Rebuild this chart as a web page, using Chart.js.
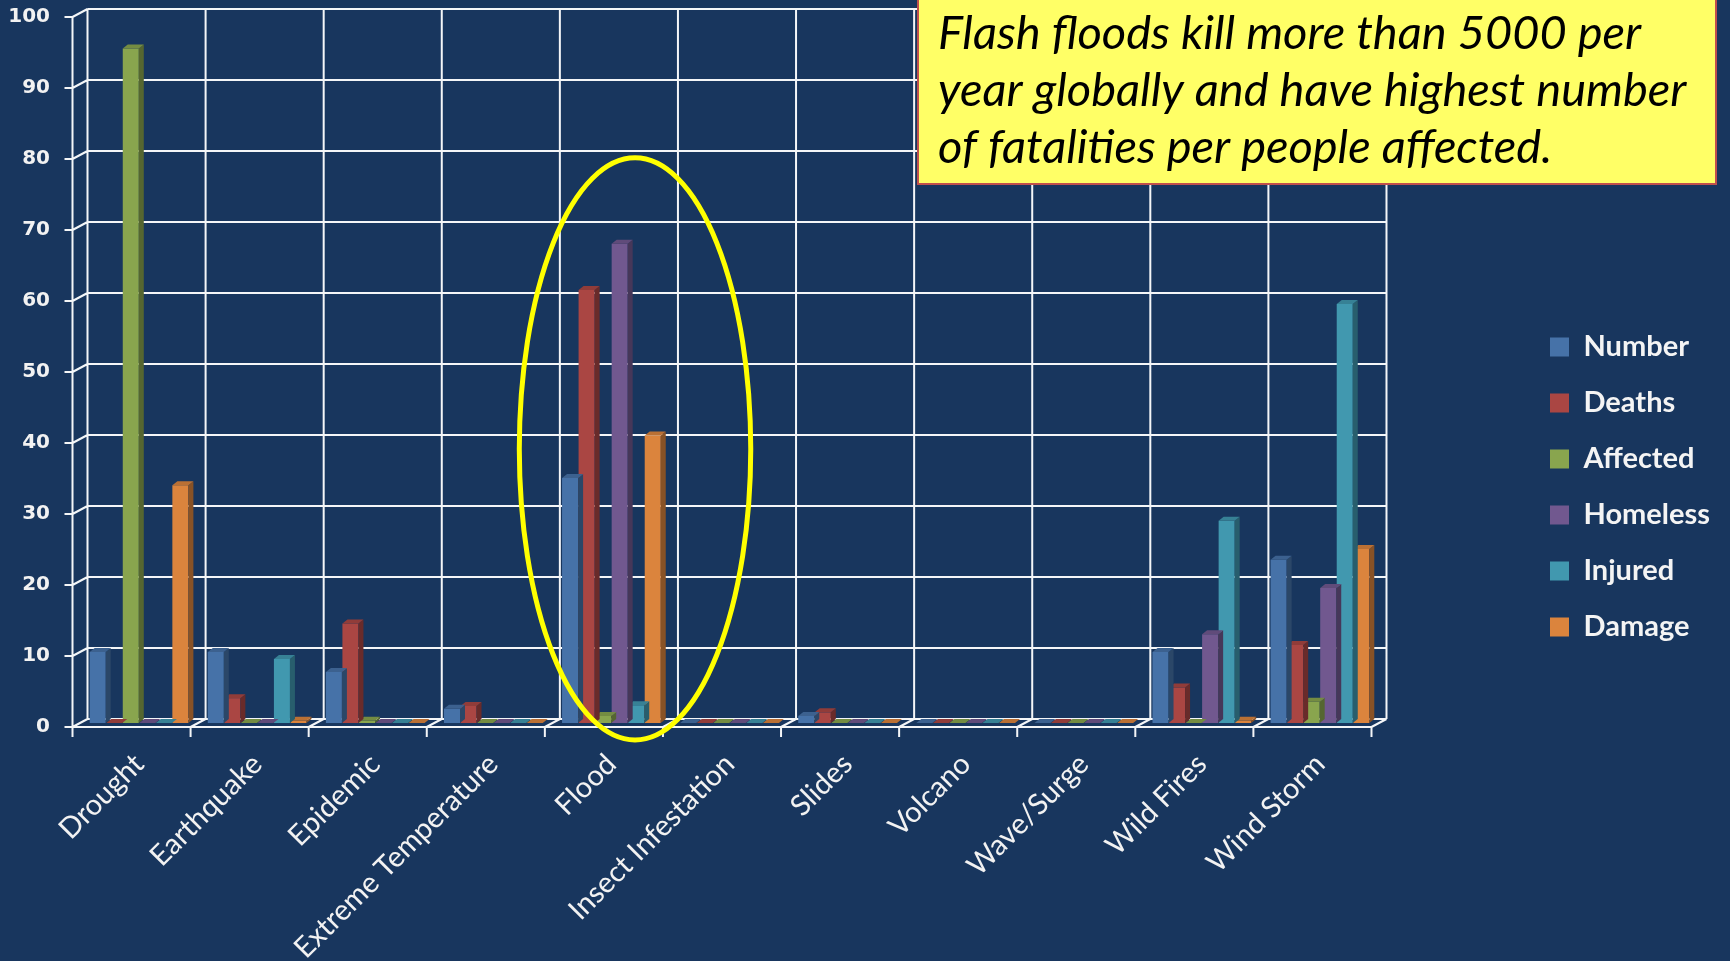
<!DOCTYPE html>
<html>
<head>
<meta charset="utf-8">
<script src="https://cdn.jsdelivr.net/npm/chart.js@4"></script>
<style>
  html, body { margin: 0; padding: 0; background: #18365e; }
  canvas { display: block; }
</style>
</head>
<body>
<canvas id="chart" width="1730" height="961"></canvas>
<script>
const categories = ['Drought', 'Earthquake', 'Epidemic', 'Extreme Temperature', 'Flood', 'Insect Infestation', 'Slides', 'Volcano', 'Wave/Surge', 'Wild Fires', 'Wind Storm'];
const number   = [10, 10, 7.2, 2, 34.5, 0, 1, 0, 0, 10, 23];
const deaths   = [0, 3.5, 14, 2.4, 61, 0, 1.5, 0, 0, 5, 11];
const affected = [95, 0, 0.3, 0, 1, 0, 0, 0, 0, 0, 3];
const homeless = [0, 0, 0, 0, 67.5, 0, 0, 0, 0, 12.5, 19];
const injured  = [0, 9, 0, 0, 2.5, 0, 0, 0, 0, 28.5, 59];
const damage   = [33.5, 0.3, 0, 0, 40.5, 0, 0, 0, 0, 0.3, 24.5];
const yTicks = [0, 10, 20, 30, 40, 50, 60, 70, 80, 90, 100];

const noteLines = ['Flash floods kill more than 5000 per', 'year globally and have highest number', 'of fatalities per people affected.'];

const series = {
  Number: [number, '#4672a8'],
  Deaths: [deaths, '#aa4643'],
  Affected: [affected, '#89a54e'],
  Homeless: [homeless, '#71588f'],
  Injured: [injured, '#4198af'],
  Damage: [damage, '#db843d']
};

// 3d depth of the plot box and of the bars
const D = 7.5, d = 4;
const bdx = 5, bdy = 4;

function shade(hex, f) {
  let n = parseInt(hex.slice(1), 16);
  let r = Math.min(255, Math.round(((n >> 16) & 255) * f));
  let g = Math.min(255, Math.round(((n >> 8) & 255) * f));
  let b = Math.min(255, Math.round((n & 255) * f));
  return `rgb(${r},${g},${b})`;
}

const box3d = {
  id: 'box3d',
  beforeDatasetsDraw(chart) {
    const {ctx, chartArea: a, scales: {x, y}} = chart;
    const catW = (a.right - a.left) / categories.length;
    const y0 = y.getPixelForValue(0), y100 = y.getPixelForValue(100);
    ctx.save();
    ctx.strokeStyle = '#f4f6f8';
    ctx.lineWidth = 2;
    ctx.beginPath();
    yTicks.forEach(v => {
      let py = y.getPixelForValue(v);
      ctx.moveTo(a.left + D, py - d); ctx.lineTo(a.right + D, py - d);
      ctx.moveTo(a.left - D, py + d); ctx.lineTo(a.left + D, py - d);
      ctx.moveTo(a.left - D - 8, py + d); ctx.lineTo(a.left - D, py + d);
    });
    for (let i = 0; i <= categories.length; i++) {
      let bx = a.left + i * catW;
      ctx.moveTo(bx + D, y0 - d); ctx.lineTo(bx + D, y100 - d);
      ctx.moveTo(bx - D, y0 + d); ctx.lineTo(bx + D, y0 - d);
      ctx.moveTo(bx - D, y0 + d); ctx.lineTo(bx - D, y0 + d + 10);
    }
    ctx.moveTo(a.left - D, y0 + d); ctx.lineTo(a.left - D, y100 + d);
    ctx.moveTo(a.left - D, y0 + d); ctx.lineTo(a.right - D, y0 + d);
    ctx.stroke();
    ctx.restore();
  },
  afterDatasetDraw(chart, args) {
    const ctx = chart.ctx;
    const color = chart.data.datasets[args.index].backgroundColor;
    ctx.save();
    args.meta.data.forEach(bar => {
      const {x, y, base, width} = bar.getProps(['x', 'y', 'base', 'width'], true);
      const l = x - width / 2, r = x + width / 2;
      ctx.fillStyle = shade(color, 0.62);
      ctx.beginPath();
      ctx.moveTo(r, y); ctx.lineTo(r + bdx, y - bdy); ctx.lineTo(r + bdx, base - bdy); ctx.lineTo(r, base);
      ctx.closePath(); ctx.fill();
      ctx.fillStyle = shade(color, 0.85);
      ctx.beginPath();
      ctx.moveTo(l, y); ctx.lineTo(l + bdx, y - bdy); ctx.lineTo(r + bdx, y - bdy); ctx.lineTo(r, y);
      ctx.closePath(); ctx.fill();
    });
    ctx.restore();
  },
  afterDatasetsDraw(chart) {
    // yellow ring round the Flood group
    const {ctx, chartArea: a, scales: {x, y}} = chart;
    const catW = (a.right - a.left) / categories.length;
    const i = categories.indexOf('Flood');
    const cx = x.getPixelForValue(i) + 0.2 * catW;
    const cy = y.getPixelForValue(38.6);
    const ry = y.getPixelForValue(0) - y.getPixelForValue(41);
    ctx.save();
    ctx.strokeStyle = '#ffff00';
    ctx.lineWidth = 5;
    ctx.beginPath();
    ctx.ellipse(cx, cy, 0.98 * catW, ry, 0, 0, Math.PI * 2);
    ctx.stroke();
    ctx.restore();
  },
  afterDraw(chart) {
    const ctx = chart.ctx;
    ctx.save();
    ctx.fillStyle = '#ffff66';
    ctx.strokeStyle = '#c0504d';
    ctx.lineWidth = 2;
    ctx.fillRect(918, -4, 798, 188);
    ctx.strokeRect(918, -4, 798, 188);
    ctx.fillStyle = '#000';
    ctx.font = 'italic 47px Lato';
    ctx.textBaseline = 'alphabetic';
    noteLines.forEach((t, k) => ctx.fillText(t, 938, 49 + k * 57));
    ctx.restore();
  }
};

function draw() {
  new Chart(document.getElementById('chart'), {
    type: 'bar',
    data: {
      labels: categories,
      datasets: Object.entries(series).map(([label, [data, color]]) => ({
        label: label,
        data: data,
        backgroundColor: color,
        borderWidth: 0,
        categoryPercentage: 0.84,
        barPercentage: 0.97
      }))
    },
    options: {
      responsive: false,
      animation: false,
      layout: { padding: { top: 13, right: 10, left: 0, bottom: 0 } },
      plugins: {
        tooltip: { enabled: false },
        legend: {
          position: 'right',
          align: 'center',
          labels: {
            boxWidth: 19,
            boxHeight: 19,
            padding: 27,
            color: '#f4f4f4',
            font: { family: 'Lato', weight: 'bold', size: 29 }
          }
        }
      },
      scales: {
        x: {
          grid: { display: false, drawTicks: false },
          border: { display: false },
          ticks: {
            color: '#f2f2f2',
            font: { family: 'Lato', size: 29 },
            maxRotation: 45,
            minRotation: 45,
            padding: 24,
            autoSkip: false
          },
          afterFit(s) { s.height = 238; }
        },
        y: {
          min: 0,
          max: 100,
          grid: { display: false, drawTicks: false },
          border: { display: false },
          ticks: {
            stepSize: 10,
            color: '#f2f2f2',
            font: { family: 'DejaVu Sans', weight: 'bold', size: 20 },
            padding: 30,
            labelOffset: 4
          },
          afterFit(s) { s.width = 80; s.paddingTop = 0; s.paddingBottom = 0; }
        },
        gap: {
          type: 'linear',
          axis: 'y',
          position: 'right',
          display: true,
          grid: { display: false, drawTicks: false },
          border: { display: false },
          ticks: { display: false },
          afterFit(s) { s.width = 144; }
        }
      }
    },
    plugins: [box3d]
  });
}

Promise.all([
  document.fonts.load('italic 47px Lato'),
  document.fonts.load('bold 29px Lato'),
  document.fonts.load('29px Lato'),
  document.fonts.load('bold 20px "DejaVu Sans"')
]).then(draw, draw);
</script>
</body>
</html>
